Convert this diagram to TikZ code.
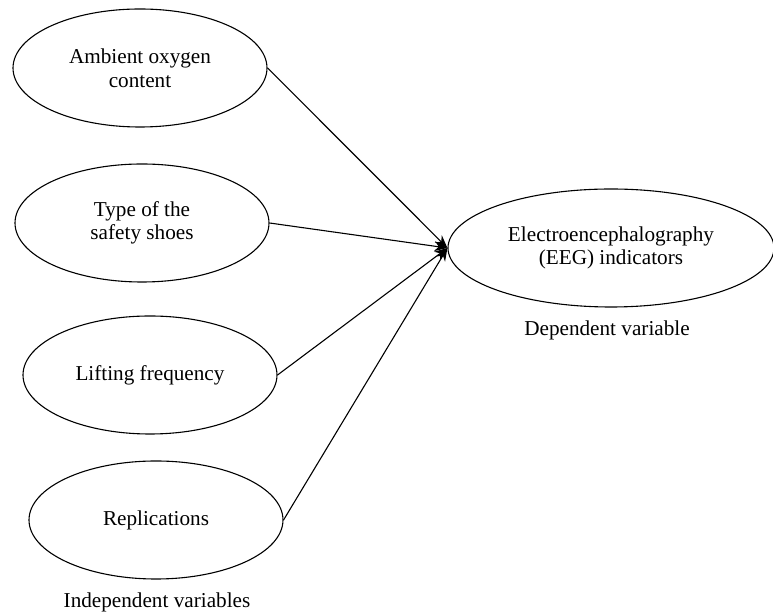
\documentclass[tikz,border=0pt]{standalone}
\usepackage{fontspec}
\setmainfont{Liberation Serif}
\usepackage{tikz}
\usetikzlibrary{shapes.geometric,arrows.meta}

\begin{document}
\begin{tikzpicture}[x=0.5pt, y=-0.5pt, font=\fontsize{10.6}{11.8}\selectfont]
      \tikzstyle{arrow} = [line width=0.55pt, -{Stealth[length=6.5pt, width=5pt]}]
      \tikzstyle{var} = [ellipse, draw=black, line width=0.55pt, minimum width=127pt, minimum height=59pt, inner sep=1pt, align=center]
      \tikzstyle{label} = [inner sep=0pt]

      \useasboundingbox (0, 0) rectangle (773, 614);

      \node (eeg) [var, minimum width=163pt] at (611, 248) {Electroencephalography\\(EEG) indicators};
      \node (dep) [label] at (607, 330) {Dependent variable};

      \foreach \name/\x/\y/\txt in {amb/140/68/{Ambient oxygen\\content}, shoe/142/223/{Type of the\\safety shoes}, lift/150/375/{Lifting frequency}, rep/156/520/{Replications}}
      {
        \node (\name) [var] at (\x, \y) {\txt};
        \draw [arrow] (\name.east) -- (eeg.west);
      }

      \node (indep) [label] at (157, 602) {Independent variables};
\end{tikzpicture}
\end{document}
